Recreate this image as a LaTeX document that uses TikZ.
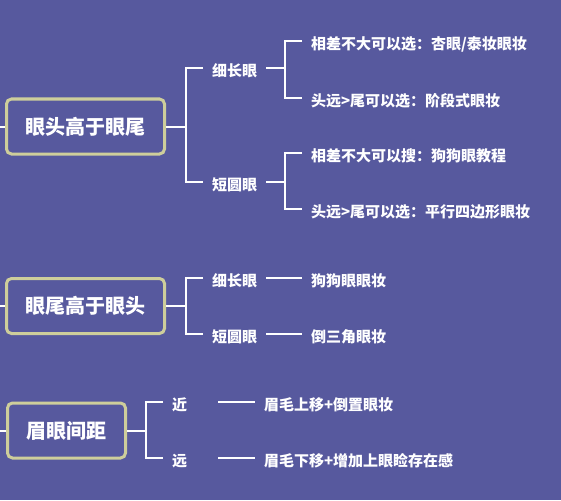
\documentclass[tikz,border=0pt]{standalone}
\usepackage{fontspec}
\usepackage{tikz}
\usetikzlibrary{calc}
\newfontfamily\cjk{Noto Sans CJK SC}
\definecolor{bgblue}{RGB}{87,89,158}
\definecolor{boxline}{RGB}{206,206,155}

\begin{document}
\begin{tikzpicture}[x=1pt, y=-1pt,
  mainbox/.style={rectangle, rounded corners=5pt, draw=boxline, line width=3pt, fill=bgblue, text=white, minimum height=55pt, inner xsep=19pt, font=\cjk\bfseries\fontsize{20}{24}\selectfont},
  sub/.style={anchor=west, inner xsep=0pt, outer xsep=9pt, text height=17pt, text depth=0pt, text=white, font=\cjk\bfseries\fontsize{15}{18}\selectfont},
  link/.style={draw=white, line width=2pt}]
\fill [bgblue] (0,0) rectangle (561,500);
\useasboundingbox (0,0) rectangle (561,500);

% first group
\node [mainbox] (B1) at (85.5,126.5) {眼头高于眼尾};
\coordinate (E1) at (0,126.5);
\coordinate (J1) at (186,126.5);
\node [sub] (S11) at (203,68) {细长眼};
\node [sub] (S12) at (203,182) {短圆眼};
\coordinate (J11) at (285,68);
\coordinate (J12) at (285,182);
\node [sub] (T111) at (302,41) {相差不大可以选：杏眼/泰妆眼妆};
\node [sub] (T112) at (302,98) {头远>尾可以选：阶段式眼妆};
\node [sub] (T121) at (302,153) {相差不大可以搜：狗狗眼教程};
\node [sub] (T122) at (302,209) {头远>尾可以选：平行四边形眼妆};
\draw [link] (E1) -- (B1);
\draw [link] (B1) -- (J1);
\draw [link] (S11) -| (J1) |- (S12);
\draw [link] (S11) -- (J11);
\draw [link] (S12) -- (J12);
\draw [link] (T111) -| (J11) |- (T112);
\draw [link] (T121) -| (J12) |- (T122);

% second group
\node [mainbox] (B2) at (85.5,306) {眼尾高于眼头};
\coordinate (E2) at (0,306);
\coordinate (J2) at (186,306);
\node [sub] (S21) at (203,278) {细长眼};
\node [sub] (S22) at (203,334) {短圆眼};
\node [sub] (T21) at (302,278) {狗狗眼眼妆};
\node [sub] (T22) at (302,334) {倒三角眼妆};
\draw [link] (E2) -- (B2);
\draw [link] (B2) -- (J2);
\draw [link] (S21) -| (J2) |- (S22);
\draw [link] (S21) -- (T21);
\draw [link] (S22) -- (T22);

% third group
\node [mainbox] (B3) at (66.5,430.5) {眉眼间距};
\coordinate (E3) at (0,430.5);
\coordinate (J3) at (146,430.5);
\node [sub, text width=37pt] (S31) at (163,402) {近};
\node [sub, text width=37pt] (S32) at (163,458) {远};
\node [sub] (T31) at (255,402) {眉毛上移+倒置眼妆};
\node [sub] (T32) at (255,458) {眉毛下移+增加上眼睑存在感};
\draw [link] (E3) -- (B3);
\draw [link] (B3) -- (J3);
\draw [link] (S31) -| (J3) |- (S32);
\draw [link] (S31) -- (T31);
\draw [link] (S32) -- (T32);
\end{tikzpicture}
\end{document}
